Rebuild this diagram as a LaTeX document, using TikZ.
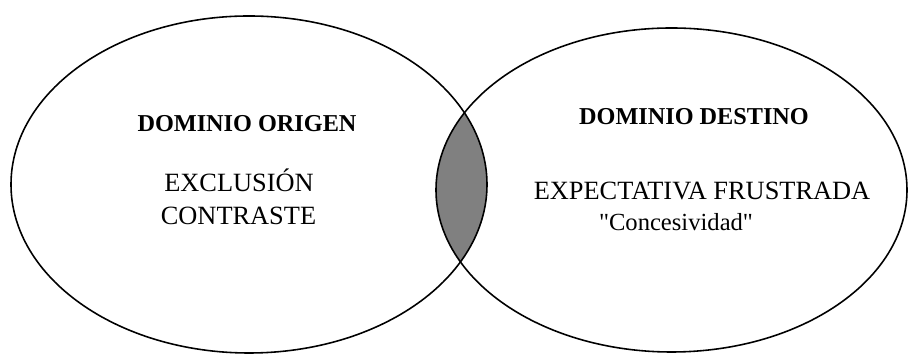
\documentclass[tikz,border=0pt]{standalone}
\usepackage{fontspec}
\setmainfont{Liberation Serif}[Ligatures=TeXOff]

\begin{document}
\begin{tikzpicture}[
    domainline/.style={line width=0.9pt},
    heading/.style={anchor=base, font=\fontsize{13.8pt}{16pt}\selectfont\bfseries},
    concept/.style={anchor=base, font=\fontsize{15pt}{18pt}\selectfont},
    note/.style={anchor=base, font=\fontsize{14pt}{17pt}\selectfont}
]
    \useasboundingbox (0,0) rectangle (18.18,7.08);

    % Shared area of both domains
    \begin{scope}
        \clip (4.98,3.39) ellipse (4.76cm and 3.37cm);
        \fill[gray] (13.43,3.28) ellipse (4.71cm and 3.24cm);
    \end{scope}

    % Source domain
    \draw[domainline] (4.98,3.39) ellipse (4.76cm and 3.37cm);
    \node[heading] (origen) at (4.94,4.44) {DOMINIO ORIGEN};
    \node[concept] (exclusion) at (4.78,3.24) {EXCLUSIÓN};
    \node[concept] (contraste) at (4.77,2.58) {CONTRASTE};

    % Target domain
    \draw[domainline] (13.43,3.28) ellipse (4.71cm and 3.24cm);
    \node[heading] (destino) at (13.88,4.58) {DOMINIO DESTINO};
    \node[concept] (expectativa) at (14.04,3.08) {EXPECTATIVA FRUSTRADA};
    \node[note] (concesividad) at (13.52,2.46) {"Concesividad"};
\end{tikzpicture}
\end{document}
